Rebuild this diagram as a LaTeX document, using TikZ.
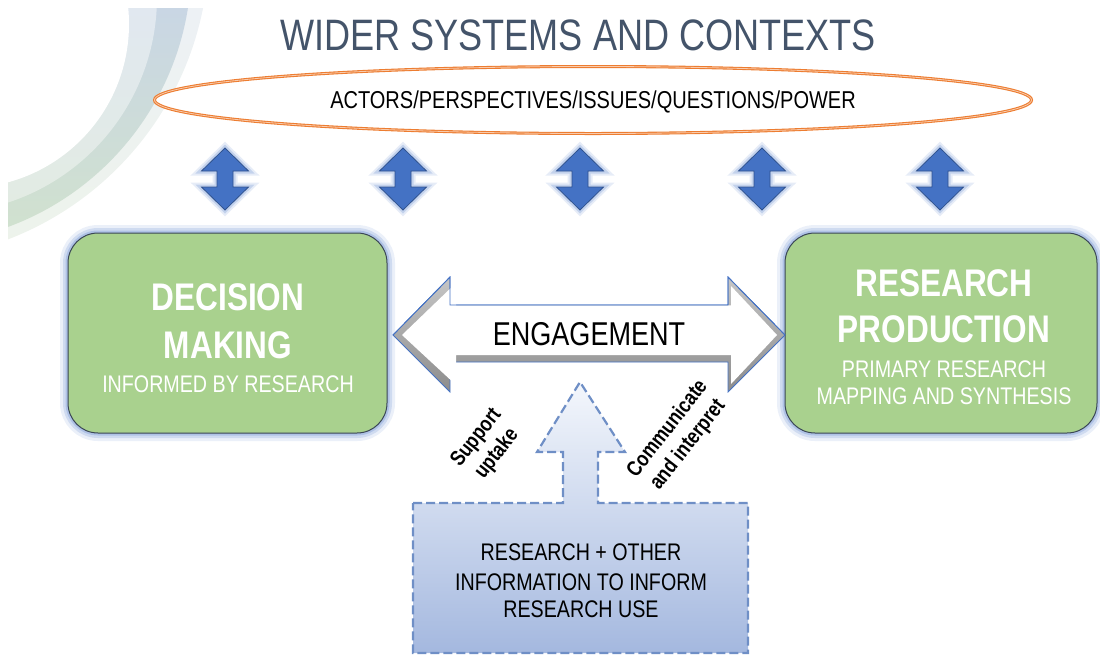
\documentclass[tikz,border=0pt]{standalone}
\usepackage{fontspec}
\setmainfont[FakeStretch=0.82]{Liberation Sans}
\usetikzlibrary{shapes.geometric}
\definecolor{titlec}{HTML}{44546A}
\definecolor{orng}{HTML}{ED7D31}
\definecolor{orngl}{HTML}{F8CBAD}
\definecolor{blu}{HTML}{4472C4}
\definecolor{bludk}{HTML}{2F528F}
\definecolor{glowc}{HTML}{8FAADC}
\definecolor{grn}{HTML}{A9D18E}
\definecolor{grnbd}{HTML}{3A4656}
\definecolor{dashc}{HTML}{6F8FC6}
\definecolor{boxtop}{HTML}{F4F7FC}
\definecolor{boxbot}{HTML}{A4B8DF}
\definecolor{arcLt}{HTML}{EDF1F5}
\definecolor{arcLb}{HTML}{EDF3EB}
\definecolor{arcMt}{HTML}{E1E8F0}
\definecolor{arcMb}{HTML}{E2ECE0}
\definecolor{arcDt}{HTML}{C9D6E4}
\definecolor{arcDb}{HTML}{D1E2CD}
\definecolor{bevel}{HTML}{9C9C9C}
\begin{document}
\begin{tikzpicture}[x=1pt,y=-1pt,
  glow/.style={preaction={draw=glowc,line width=16pt,draw opacity=.18},
               preaction={draw=glowc,line width=10pt,draw opacity=.3},
               preaction={draw=glowc,line width=5pt,draw opacity=.5}},
  glowsm/.style={preaction={draw=glowc,line width=9pt,draw opacity=.22},
                 preaction={draw=glowc,line width=5pt,draw opacity=.4}},
  greenbox/.style={glow, rectangle, rounded corners=30pt, fill=grn, draw=grnbd,
                   line width=1pt, minimum height=200pt, inner sep=0pt},
  bigtxt/.style={anchor=base, font=\fontsize{38.5}{46}\selectfont\bfseries, text=white},
  smalltxt/.style={anchor=base, font=\fontsize{24}{27}\selectfont, text=white},
  boxtxt/.style={anchor=base, font=\fontsize{24}{27}\selectfont, text=black},
  rottxt/.style={rotate=52, align=center, font=\fontsize{21.5}{26}\selectfont\bfseries, text=black},
  vdarrow/.pic={\path[glowsm, fill=blu, draw=bludk, line width=0.8pt]
     (0,-31) -- (23.5,-8) -- (8,-8) -- (8,8) -- (23.5,8) -- (0,31)
     -- (-23.5,8) -- (-8,8) -- (-8,-8) -- (-23.5,-8) -- cycle;}
]
\useasboundingbox (0,0) rectangle (1100,657);

% background crescent arc
\begin{scope}
  \clip (8,8) rectangle (420,300);
  \begin{scope}
    \clip (-104,-53) circle[radius=313];
    \shade[top color=arcLt, bottom color=arcLb] (8,8) rectangle (420,245);
  \end{scope}
  \begin{scope}
    \clip (-88.8,-36.1) circle[radius=280.2];
    \shade[top color=arcDt, bottom color=arcDb] (8,8) rectangle (420,245);
  \end{scope}
  \begin{scope}
    \clip (-59.2,-3) circle[radius=216.2];
    \shade[top color=arcMt, bottom color=arcMb] (8,8) rectangle (420,245);
  \end{scope}
  \fill[white] (-35,24) circle[radius=164];
\end{scope}

% title and context ellipse
\node[anchor=base, text=titlec, font=\fontsize{44}{50}\selectfont] (title) at (578,50) {WIDER SYSTEMS AND CONTEXTS};
\node[ellipse, draw=orng, line width=1.1pt, double=orngl, double distance=0.8pt,
      fill=white, minimum width=877pt, minimum height=67pt, inner sep=0pt] (ctx) at (593,100) {};
\node[anchor=base, font=\fontsize{24.4}{28}\selectfont] (ctxt) at (593,108) {ACTORS/PERSPECTIVES/ISSUES/QUESTIONS/POWER};

% blue double arrows
\pic (a1) at (225,179) {vdarrow};
\pic (a2) at (403,179) {vdarrow};
\pic (a3) at (580,179) {vdarrow};
\pic (a4) at (762,179) {vdarrow};
\pic (a5) at (940,179) {vdarrow};

% green boxes
\node[greenbox, minimum width=319pt] (dm) at (227.5,333) {};
\node[greenbox, minimum width=312pt] (rp) at (941,333) {};
\node[bigtxt] (dm1) at (228,310) {DECISION};
\node[bigtxt] (dm2) at (228,358) {MAKING};
\node[smalltxt] (dm3) at (228,392) {INFORMED BY RESEARCH};
\node[bigtxt] (rp1) at (944,296) {RESEARCH};
\node[bigtxt] (rp2) at (944,342) {PRODUCTION};
\node[smalltxt] (rp3) at (944,377) {PRIMARY RESEARCH};
\node[smalltxt] (rp4) at (944,404) {MAPPING AND SYNTHESIS};

% engagement arrow
\path[top color=gray!45, bottom color=bevel!90!black, draw=blu, line width=0.8pt]
  (393,335) -- (450,277) -- (450,305) -- (728,305) -- (728,277) -- (785,335)
  -- (728,392) -- (728,362) -- (450,362) -- (450,392) -- cycle;
\path[fill=white]
  (402,335) -- (456,283) -- (456,305.4) -- (731,305.4) -- (731,286) -- (777,335)
  -- (731,384) -- (731,355) -- (456,355) -- (456,385) -- cycle;
\draw[blu, line width=0.8pt] (393,335) -- (450,277) -- (450,305) -- (728,305) -- (728,277) -- (785,335);
\node[anchor=base, font=\fontsize{33}{38}\selectfont] (eng) at (589,345) {ENGAGEMENT};

% dashed box with upward arrow
\path[draw=dashc, line width=2.2pt, dash pattern=on 9pt off 4pt,
      top color=boxtop, bottom color=boxbot]
  (413,503) -- (563,503) -- (563,452) -- (537,452) -- (580,382) -- (625,452)
  -- (598,452) -- (598,503) -- (748,503) -- (748,653) -- (413,653) -- cycle;
\node[boxtxt] (b1) at (581,560) {RESEARCH + OTHER};
\node[boxtxt] (b2) at (581,590) {INFORMATION TO INFORM};
\node[boxtxt] (b3) at (581,617) {RESEARCH USE};

% rotated labels
\node[rottxt] (sup) at (487,446) {Support\\uptake};
\node[rottxt] (com) at (678,437) {Communicate\\and interpret};
\end{tikzpicture}
\end{document}
